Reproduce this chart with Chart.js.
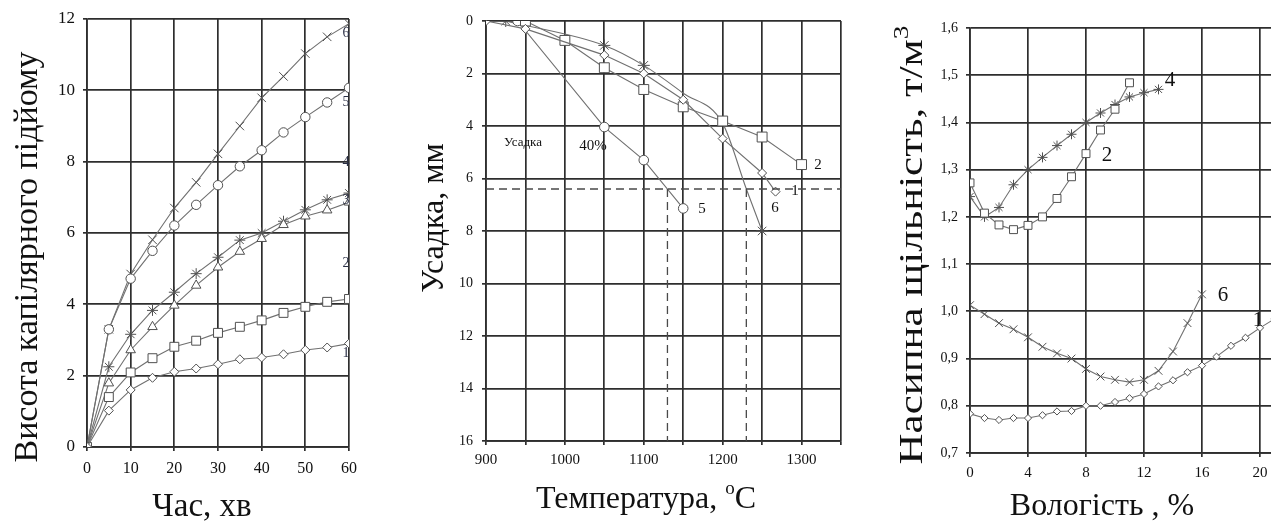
<!DOCTYPE html>
<html><head><meta charset="utf-8">
<script src="https://cdn.jsdelivr.net/npm/chart.js@4.4.1/dist/chart.umd.min.js"></script>
<style>
html,body{margin:0;padding:0;width:1271px;height:523px;overflow:hidden;background:#fff;position:relative;}
canvas{position:absolute;top:0;}
</style></head><body>
<canvas id="c1" width="370" height="523" style="left:0"></canvas>
<canvas id="c2" width="460" height="523" style="left:400px"></canvas>
<canvas id="c3" width="470" height="523" style="left:870px"></canvas>
<script>
// ---------- Panel 1: capillary rise vs time ----------
const timeMin = [0,5,10,15,20,25,30,35,40,45,50,55,60];
const rise1 = [0,1.02,1.6,1.94,2.11,2.2,2.32,2.46,2.51,2.6,2.72,2.79,2.9];
const rise2 = [0,1.4,2.09,2.49,2.81,2.98,3.2,3.37,3.55,3.76,3.93,4.07,4.15];
const rise3 = [0,1.79,2.72,3.37,3.97,4.53,5.04,5.48,5.84,6.23,6.47,6.64,6.86];
const rise4 = [0,2.25,3.16,3.83,4.34,4.86,5.32,5.8,6.0,6.33,6.65,6.93,7.12];
const rise5 = [0,3.3,4.72,5.5,6.21,6.79,7.34,7.87,8.32,8.82,9.25,9.66,10.07];
const rise6 = [0,3.3,4.85,5.81,6.7,7.42,8.22,9.0,9.79,10.39,11.03,11.5,11.87];
const riseLabels = ['1','2','3','4','5','6'];
const riseLabelY = [2.64,5.16,6.92,7.99,9.67,11.6];

// ---------- Panel 2: shrinkage vs temperature ----------
const temp1 = [900,950,1050,1100,1150,1200,1250,1267];
const shrink1 = [0,0.3,1.3,2.0,3.0,4.48,5.79,6.5];
const temp2 = [950,1000,1050,1100,1150,1200,1250,1300];
const shrink2 = [0,0.74,1.78,2.61,3.27,3.81,4.42,5.47];
const temp5 = [940,1050,1100,1150];
const shrink5 = [0,4.04,5.3,7.14];
const temp6 = [925,1050,1100,1150,1200,1230,1250];
const shrink6 = [0,0.93,1.69,2.75,3.9,6.4,8.0];
const guideLevel = 6.4;
const guideTemps = [1130,1230];

// ---------- Panel 3: bulk density vs moisture ----------
const moist1 = [0,1,2,3,4,5,6,7,8,9,10,11,12,13,14,15,16,17,18,19,20,21];
const dens1 = [0.783,0.774,0.77,0.774,0.774,0.78,0.788,0.789,0.8,0.8,0.808,0.816,0.825,0.841,0.854,0.871,0.885,0.904,0.927,0.944,0.965,0.984];
const moist2 = [0,1,2,3,4,5,6,7,8,9,10,11];
const dens2 = [1.272,1.208,1.183,1.173,1.182,1.2,1.239,1.285,1.334,1.384,1.428,1.484];
const moist4 = [0,1,2,3,4,5,6,7,8,9,10,11,12,13];
const dens4 = [1.243,1.2,1.22,1.268,1.3,1.326,1.351,1.375,1.4,1.42,1.438,1.454,1.463,1.47];
const moist6 = [0,1,2,3,4,5,6,7,8,9,10,11,12,13,14,15,16];
const dens6 = [1.013,0.994,0.975,0.962,0.945,0.925,0.911,0.9,0.878,0.862,0.855,0.85,0.855,0.874,0.915,0.975,1.036];

const pts = (xs, ys) => xs.map((x,i)=>({x, y: ys[i]}));
const SERIF = '"Liberation Serif", "Times New Roman", serif';
const GRID = '#2e2e2e';
const LINE = '#707070';
const MARK = '#505050';

const texts = {};
const textPlugin = {
  id: 'texts',
  afterDatasetsDraw(chart) {
    const items = texts[chart.canvas.id] || [];
    const ctx = chart.ctx;
    items.forEach(it => {
      ctx.save();
      const x = it.data ? chart.scales.x.getPixelForValue(it.x) : it.x;
      const y = it.data ? chart.scales.y.getPixelForValue(it.y) : it.y;
      ctx.translate(x, y);
      if (it.rot) ctx.rotate(it.rot);
      if (it.stretch) ctx.scale(it.stretch, 1);
      ctx.fillStyle = it.color || '#111';
      ctx.textBaseline = it.base || 'middle';
      const parts = it.parts || [[it.text, it.size, 0]];
      let total = 0;
      parts.forEach(p => { ctx.font = p[1] + 'px ' + SERIF; total += ctx.measureText(p[0]).width; });
      let cx = it.align === 'left' ? 0 : -total / 2;
      ctx.textAlign = 'left';
      parts.forEach(p => {
        ctx.font = p[1] + 'px ' + SERIF;
        ctx.fillText(p[0], cx, p[2]);
        cx += ctx.measureText(p[0]).width;
      });
      ctx.restore();
    });
  }
};

function series(data, style, radius, extra) {
  return Object.assign({
    data, borderColor: LINE, borderWidth: 1.1, tension: 0,
    pointStyle: style, pointRadius: radius, pointHoverRadius: radius,
    pointBackgroundColor: '#fff', pointBorderColor: MARK, pointBorderWidth: 1
  }, extra || {});
}

function makeChart(id, cfg) {
  return new Chart(document.getElementById(id), {
    type: 'line',
    data: { datasets: cfg.datasets },
    options: {
      responsive: false, animation: false, devicePixelRatio: 1,
      layout: { padding: cfg.padding },
      plugins: { legend: { display: false }, tooltip: { enabled: false } },
      scales: {
        x: Object.assign({
          type: 'linear',
          grid: { color: GRID, lineWidth: 1.7, tickLength: 4, tickColor: GRID },
          border: { color: GRID, width: 1.7 },
          ticks: Object.assign({ color: '#111', font: { family: SERIF, size: cfg.xFont }, maxRotation: 0, autoSkip: false, padding: cfg.xPad }, cfg.xTicks),
          afterFit: s => { s.height = cfg.xH; }
        }, cfg.x),
        y: Object.assign({
          type: 'linear',
          grid: { color: GRID, lineWidth: 1.7, tickLength: 4, tickColor: GRID },
          border: { color: GRID, width: 1.7 },
          ticks: Object.assign({ color: '#111', font: { family: SERIF, size: cfg.yFont }, autoSkip: false, padding: cfg.yPad }, cfg.yTicks),
          afterFit: s => { s.width = cfg.yW; }
        }, cfg.y)
      }
    },
    plugins: [textPlugin]
  });
}

// ---- Panel 1 ----
texts.c1 = [
  { text: 'Висота капілярного підйому', size: 34, x: 28, y: 257, rot: -Math.PI/2 },
  { text: 'Час, хв', size: 33, x: 202, y: 507 }
].concat(riseLabels.map((t,i)=>({ text: t, size: 14, data: true, x: 59.3, y: riseLabelY[i], color: '#2a2f45' })));
makeChart('c1', {
  padding: { left: 0, right: 21, top: 19, bottom: 0 }, xH: 76, yW: 87,
  xFont: 16, yFont: 17, xPad: 8, yPad: 8,
  x: { min: 0, max: 60 }, xTicks: { stepSize: 10 },
  y: { min: 0, max: 12 }, yTicks: { stepSize: 2 },
  datasets: [
    series(pts(timeMin, rise1), 'rectRot', 4.5),
    series(pts(timeMin, rise2), 'rect', 6.3),
    series(pts(timeMin, rise3), 'triangle', 5.5),
    series(pts(timeMin, rise4), 'star', 5.5),
    series(pts(timeMin, rise5), 'circle', 4.7),
    series(pts(timeMin, rise6), 'crossRot', 6)
  ]
});

// ---- Panel 2 ----
texts.c2 = [
  { text: 'Усадка, мм', size: 32, x: 35, y: 218, rot: -Math.PI/2 },
  { parts: [['Температура, ', 32, 0], ['o', 19, -11], ['C', 32, 0]], x: 246, y: 500 },
  { text: 'Усадка', size: 13, x: 123, y: 143 },
  { text: '40%', size: 15, x: 193, y: 146 },
  { text: '5', size: 15, x: 302, y: 209 },
  { text: '6', size: 15, x: 375, y: 208 },
  { text: '1', size: 15, x: 395, y: 191 },
  { text: '2', size: 15, x: 418, y: 165 }
];
const dash = { borderColor: '#4a4a4a', borderWidth: 1.3, borderDash: [8,5], pointRadius: 0, pointHoverRadius: 0 };
makeChart('c2', {
  padding: { left: 0, right: 19, top: 21, bottom: 0 }, xH: 82, yW: 86,
  xFont: 15, yFont: 14, xPad: 6, yPad: 9,
  x: { min: 900, max: 1350 }, xTicks: { stepSize: 50, callback: v => (v % 100 === 0 && v < 1350) ? v : '' },
  y: { min: 0, max: 16, reverse: true }, yTicks: { stepSize: 2 },
  datasets: [
    Object.assign({ data: [{x: 900, y: guideLevel}, {x: 1350, y: guideLevel}] }, dash),
    Object.assign({ data: [{x: guideTemps[0], y: guideLevel}, {x: guideTemps[0], y: 16}] }, dash),
    Object.assign({ data: [{x: guideTemps[1], y: guideLevel}, {x: guideTemps[1], y: 16}] }, dash),
    series(pts(temp1, shrink1), 'rectRot', 4.5),
    series(pts(temp2, shrink2), 'rect', 7),
    series(pts(temp5, shrink5), 'circle', 4.8),
    series(pts(temp6, shrink6), 'star', 6, {
      cubicInterpolationMode: 'monotone',
      pointRadius: c => ([0,1,2,6].includes(c.dataIndex) ? 6 : 0)
    })
  ]
});

// ---- Panel 3 ----
texts.c3 = [
  { parts: [['Насипна щільність, т/м', 33, 0], ['3', 21, -11]], x: 43, y: 245, rot: -Math.PI/2, stretch: 1.3 },
  { text: 'Вологість , %', size: 32, x: 232, y: 507 },
  { text: '4', size: 21, x: 300, y: 80 },
  { text: '2', size: 21, x: 237, y: 155 },
  { text: '6', size: 21, x: 353, y: 295 },
  { text: '1', size: 21, x: 388, y: 320 }
];
makeChart('c3', {
  padding: { left: 0, right: 22, top: 28, bottom: 0 }, xH: 70, yW: 100,
  xFont: 15, yFont: 14, xPad: 7, yPad: 8,
  x: { min: 0, max: 24 }, xTicks: { stepSize: 4 },
  y: { min: 0.7, max: 1.6 }, yTicks: { stepSize: 0.1, callback: v => v.toFixed(1).replace('.', ',') },
  datasets: [
    series(pts(moist1, dens1), 'rectRot', 3.6),
    series(pts(moist2, dens2), 'rect', 5.6),
    series(pts(moist4, dens4), 'star', 5),
    series(pts(moist6, dens6), 'crossRot', 5.5)
  ]
});
</script>
</body></html>
